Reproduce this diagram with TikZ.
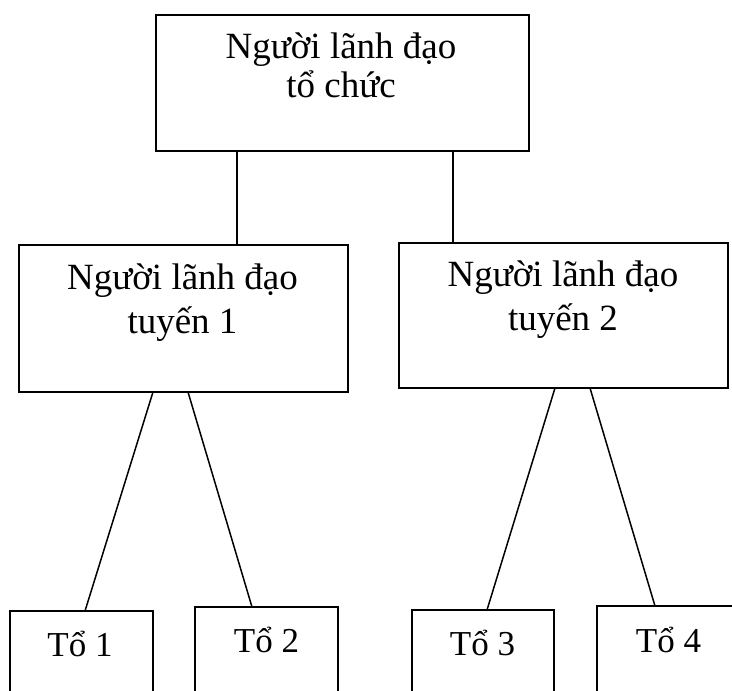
\documentclass[tikz,border=0pt]{standalone}
\usepackage{fontspec}
\setmainfont{Liberation Serif}
\begin{document}
\begin{tikzpicture}[x=1pt,y=-1pt,
  box/.style={draw=black,line width=2pt,rectangle,inner sep=0pt,outer sep=0pt},
  lbl/.style={align=center,inner sep=0pt,anchor=base,font=\fontsize{35}{39}\selectfont},
  lbltop/.style={lbl,font=\fontsize{37}{39}\selectfont},
  lbl2/.style={lbl,font=\fontsize{37}{43.5}\selectfont},
  link/.style={draw=black,line width=1.5pt}]
\clip (0,0) rectangle (732,691);
\fill[white] (0,0) rectangle (732,691);
% organisation chart boxes
\node[box,minimum width=373pt,minimum height=136pt] (top) at (342.5,83) {};
\node[box,minimum width=329pt,minimum height=147pt] (b1) at (183.5,318.5) {};
\node[box,minimum width=329pt,minimum height=145pt] (b2) at (563.5,315.5) {};
\node[box,anchor=north,minimum width=143pt,minimum height=120pt] (t1) at (81.5,611) {};
\node[box,anchor=north,minimum width=143pt,minimum height=120pt] (t2) at (266.5,607) {};
\node[box,anchor=north,minimum width=142pt,minimum height=120pt] (t3) at (483,610) {};
\node[box,anchor=north,minimum width=143pt,minimum height=120pt] (t4) at (668.5,606) {};
% box texts (anchored at the baseline of the last line)
\node[lbltop] (topL) at (341,97) {Người lãnh đạo\\tổ chức};
\node[lbl2] (b1L) at (182.5,333) {Người lãnh đạo\\tuyến 1};
\node[lbl2] (b2L) at (563,330) {Người lãnh đạo\\tuyến 2};
\node[lbl] (t1L) at (80,656.5) {Tổ 1};
\node[lbl] (t2L) at (266.5,652) {Tổ 2};
\node[lbl] (t3L) at (482.5,655) {Tổ 3};
\node[lbl] (t4L) at (668.5,652) {Tổ 4};
% connectors
\draw[link] ([xshift=81pt]top.south west) -- ([xshift=218pt]b1.north west);
\draw[link] ([xshift=297pt]top.south west) -- ([xshift=54pt]b2.north west);
\draw[link] ([xshift=134pt]b1.south west) -- ([xshift=75pt]t1.north west);
\draw[link] ([xshift=169pt]b1.south west) -- ([xshift=57pt]t2.north west);
\draw[link] ([xshift=156pt]b2.south west) -- ([xshift=75pt]t3.north west);
\draw[link] ([xshift=191pt]b2.south west) -- ([xshift=58pt]t4.north west);
\end{tikzpicture}
\end{document}
